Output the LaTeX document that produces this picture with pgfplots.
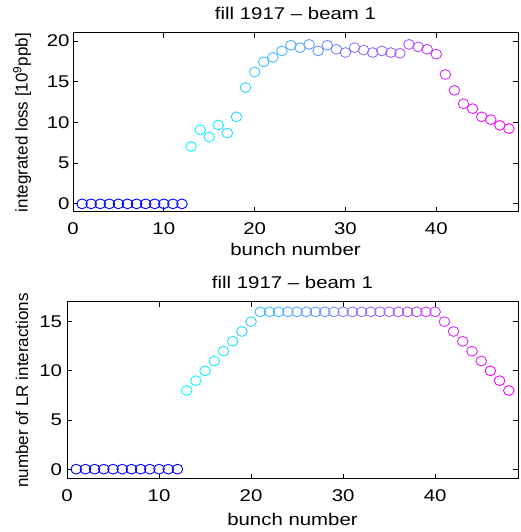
\documentclass[border=0pt]{standalone}
\usepackage{fontspec}
\setmainfont{Liberation Sans}[FakeStretch=1.2]
\newfontfamily\vfont{Liberation Sans}
\usepackage{pgfplots}
\usepackage{pgfplotstable}
\pgfplotsset{compat=1.18}

\newcommand{\fs}{\fontsize{17bp}{20bp}\selectfont}

% bunch, integrated loss [1e9 ppb], number of LR interactions
\pgfplotstableread{
n  loss   lr
1  0      0
2  0      0
3  0      0
4  0      0
5  0      0
6  0      0
7  0      0
8  0      0
9  0      0
10 0      0
11 0      0
12 0      0
13 7.05   8
14 9.1    9
15 8.2    10
16 9.7    11
17 8.7    12
18 10.7   13
19 14.3   14
20 16.2   15
21 17.45  16
22 18.0   16
23 18.8   16
24 19.5   16
25 19.2   16
26 19.6   16
27 18.8   16
28 19.5   16
29 19.0   16
30 18.6   16
31 19.2   16
32 18.9   16
33 18.6   16
34 18.8   16
35 18.6   16
36 18.5   16
37 19.6   16
38 19.3   16
39 19.0   16
40 18.4   16
41 15.9   15
42 13.95  14
43 12.3   13
44 11.7   12
45 10.7   11
46 10.35  10
47 9.65   9
48 9.25   8
}\bunchdata

\pgfplotsset{
  colormap={coolmap}{rgb255=(0,255,255) rgb255=(255,0,255)},
  bunchax/.style={
    scale only axis,
    anchor=south west,
    xmin=0, xmax=49,
    xtick={0,10,20,30,40},
    tick align=inside,
    tick pos=both,
    major tick length=5bp,
    tick style={black, line width=0.8bp},
    axis line style={black, line width=1bp},
    colormap name=coolmap,
    point meta min=13, point meta max=48,
    /pgf/number format/assume math mode=true,
    tick label style={font=\fs},
    x tick label style={anchor=center, yshift=-16.5bp},
    title style={font=\fs, at={(axis description cs:0.5,1)}, anchor=base, yshift=8bp},
    xlabel style={font=\fs, at={(axis description cs:0.5,0)}, anchor=base},
    ylabel style={font=\vfont\fs, at={(axis description cs:0,0.5)}, anchor=center},
    title={fill 1917 -- beam 1},
    xlabel={bunch number},
  },
  zeromarks/.style={only marks, mark=o, blue, mark size=4.9bp,
    mark options={xscale=1.08, line width=0.9bp}},
  coolmarks/.style={scatter, only marks, mark=o, mark size=4.9bp,
    mark options={xscale=1.08, line width=0.9bp},
    scatter/use mapped color={draw=mapped color, fill=none},
    point meta=x},
}

\begin{document}
\begin{tikzpicture}
\path[use as bounding box] (0,0) rectangle (521bp,532bp);

\begin{axis}[bunchax,
    at={(73bp,320bp)}, width=445bp, height=179bp,
    ymin=-1, ymax=21,
    ytick={0,5,10,15,20},
    xlabel style={yshift=-44bp},
    ylabel style={yshift=51bp},
    ylabel={integrated loss [10\textsuperscript{9}ppb]}]
\addplot[zeromarks, restrict x to domain=0:12.5] table[x=n, y=loss] {\bunchdata};
\addplot[coolmarks, restrict x to domain=12.5:49] table[x=n, y=loss] {\bunchdata};
\end{axis}

\begin{axis}[bunchax,
    at={(67bp,53bp)}, width=451bp, height=177bp,
    ymin=-1, ymax=17,
    ytick={0,5,10,15},
    y tick label style={xshift=-1.5bp},
    xlabel style={yshift=-46bp},
    ylabel style={yshift=45bp},
    ylabel={number of LR interactions}]
\addplot[zeromarks, restrict x to domain=0:12.5] table[x=n, y=lr] {\bunchdata};
\addplot[coolmarks, restrict x to domain=12.5:49] table[x=n, y=lr] {\bunchdata};
\end{axis}
\end{tikzpicture}
\end{document}
